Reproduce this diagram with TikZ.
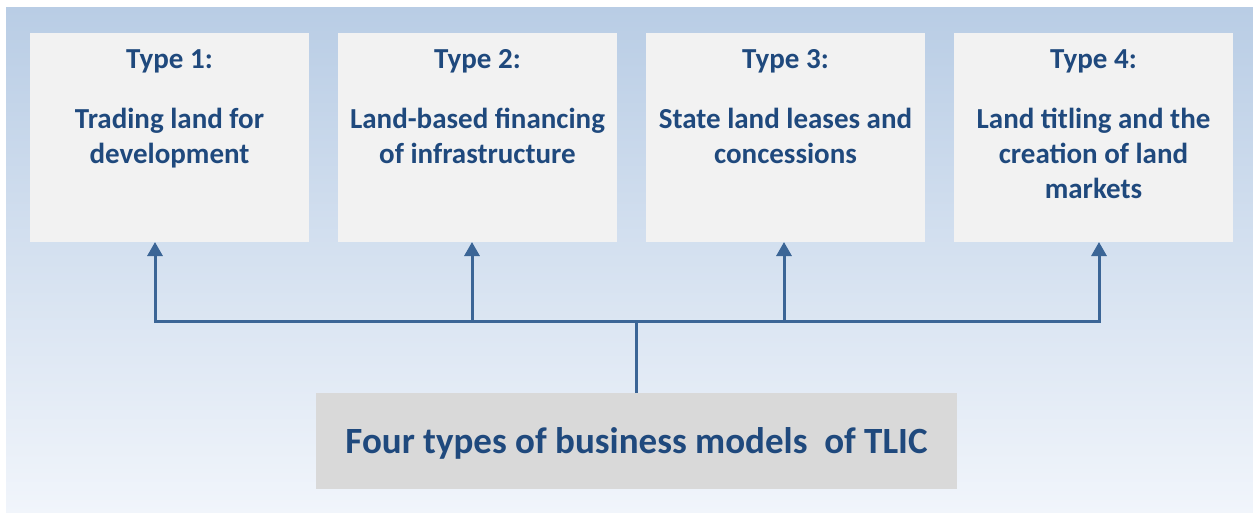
\documentclass[tikz,border=0pt]{standalone}
\usepackage{fontspec}
\setmainfont{Carlito}
\usetikzlibrary{arrows.meta}
\definecolor{txtblue}{RGB}{31,73,125}
\definecolor{connblue}{RGB}{59,101,150}
\definecolor{bgtop}{RGB}{185,205,229}
\definecolor{bgbot}{RGB}{241,245,251}
\definecolor{typefill}{RGB}{242,242,242}
\definecolor{mainfill}{RGB}{217,217,217}
\newcommand\tlicbox[2]{\parbox[t][209pt][t]{279pt}{\centering\rule{0pt}{35.5pt}#1\par\vspace{25pt}#2\par}}
\begin{document}
\begin{tikzpicture}[x=1pt,y=-1pt,
  typebox/.style={fill=typefill, inner sep=0pt, outer sep=0pt, anchor=north west, text=txtblue,
    font=\bfseries\fontsize{29}{35}\selectfont},
  mainbox/.style={fill=mainfill, inner sep=0pt, outer sep=0pt, minimum width=641pt, minimum height=96pt,
    text depth=0pt, text=txtblue, font=\bfseries\fontsize{37}{44}\selectfont},
  conn/.style={draw=connblue, line width=3pt},
  arrowconn/.style={conn, -{Triangle[width=15pt,length=14pt]}}]
\useasboundingbox (0,0) rectangle (1253,513);
\shade[top color=bgtop, bottom color=bgbot] (6,8) rectangle (1253,513);

\node[typebox] (b1) at (30,33) {\tlicbox{Type 1:}{Trading land for\\development}};
\node[typebox] (b2) at (338,33) {\tlicbox{Type 2:}{Land-based financing\\of infrastructure}};
\node[typebox] (b3) at (646,33) {\tlicbox{Type 3:}{State land leases and\\concessions}};
\node[typebox] (b4) at (954,33) {\tlicbox{Type 4:}{Land titling and the\\creation of land\\markets}};

\node[mainbox] (m) at (636.5,441) {Four types of business models~~of TLIC};

\coordinate (h1) at (155,321);
\coordinate (h2) at (472,321);
\coordinate (h3) at (784,321);
\coordinate (h4) at (1099,321);
\coordinate (hm) at (636,321);

\draw[conn, line cap=rect] (h1) -- (h4);
\draw[conn] (m.north -| hm) -- (hm);
\draw[arrowconn] (h1) -- (h1 |- b1.south);
\draw[arrowconn] (h2) -- (h2 |- b2.south);
\draw[arrowconn] (h3) -- (h3 |- b3.south);
\draw[arrowconn] (h4) -- (h4 |- b4.south);
\end{tikzpicture}
\end{document}
